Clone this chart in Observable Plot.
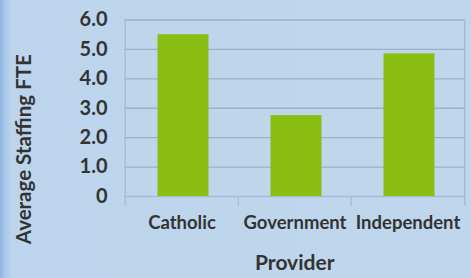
<!DOCTYPE html>
<html>
<head>
<meta charset="utf-8">
<script src="https://cdn.jsdelivr.net/npm/d3@7"></script>
<script src="https://cdn.jsdelivr.net/npm/@observablehq/plot@0.6"></script>
<style>
  html, body { margin: 0; padding: 0; }
  body {
    width: 471px; height: 278px; overflow: hidden;
    background: linear-gradient(to right, #8fb5df 0px, #a9c8e8 5px, #bdd5ec 12px, #bfd6ec 100%);
  }
  svg { display: block; background: transparent !important; }
</style>
</head>
<body>
<div id="chart"></div>
<script>
const providers = ["Catholic", "Government", "Independent"];
const staffing = [5.5, 2.75, 4.85];
const yTicks = [0, 1, 2, 3, 4, 5, 6];

const data = providers.map((p, i) => ({provider: p, fte: staffing[i]}));

const W = 471, H = 278;
const mL = 124, mR = 6.5, mT = 19.5, mB = 82;
const textColor = "#333333";
const gridColor = "#9db1c6";
const lightLine = "#a6bcd2";
const font = "Lato, 'Open Sans', sans-serif";
const half = 56.75;      // half category step in px
const tickDown = -0.34;  // tick mark length below the axis, in y units (~10px)

const chart = Plot.plot({
  width: W,
  height: H,
  marginLeft: mL,
  marginRight: mR,
  marginTop: mT,
  marginBottom: mB,
  style: {background: "transparent", fontFamily: font, color: textColor, overflow: "visible"},
  x: {domain: providers, paddingInner: 0.55, paddingOuter: 0.275, axis: null},
  y: {domain: [0, 6], axis: null},
  marks: [
    Plot.ruleY(yTicks.slice(1), {stroke: gridColor, strokeWidth: 1.3}),
    Plot.ruleY([0], {stroke: lightLine, strokeWidth: 1.3}),
    Plot.ruleX([providers[0]], {stroke: lightLine, strokeWidth: 1.3, dx: -half, y1: 6, y2: tickDown}),
    Plot.ruleX([providers[2]], {stroke: lightLine, strokeWidth: 1.5, dx: half, y1: 6, y2: tickDown}),
    Plot.ruleX(providers.slice(1), {stroke: lightLine, strokeWidth: 1.3, dx: -half, y1: 0, y2: tickDown}),
    Plot.barY(data, {x: "provider", y: "fte", fill: "#8bbe12", dx: 1.5}),
    Plot.text(yTicks, {
      y: d => d, frameAnchor: "left", dx: -17, textAnchor: "end",
      text: d => d === 0 ? "0" : d.toFixed(1),
      fontSize: 20, fontWeight: "bold", fill: textColor
    }),
    Plot.text(providers, {
      x: d => d, y: 0, dy: 27, text: d => d,
      fontSize: 18.5, fontWeight: "bold", fill: textColor
    }),
    Plot.text(["Average Staffing FTE"], {
      frameAnchor: "left", dx: -100, dy: 41, textAnchor: "middle", rotate: -90,
      fontSize: 20.5, fontWeight: "bold", fill: textColor
    }),
    Plot.text(["Provider"], {
      frameAnchor: "bottom", dy: 73, fontSize: 21, fontWeight: "bold", fill: textColor
    })
  ]
});

document.getElementById("chart").appendChild(chart);
</script>
</body>
</html>
